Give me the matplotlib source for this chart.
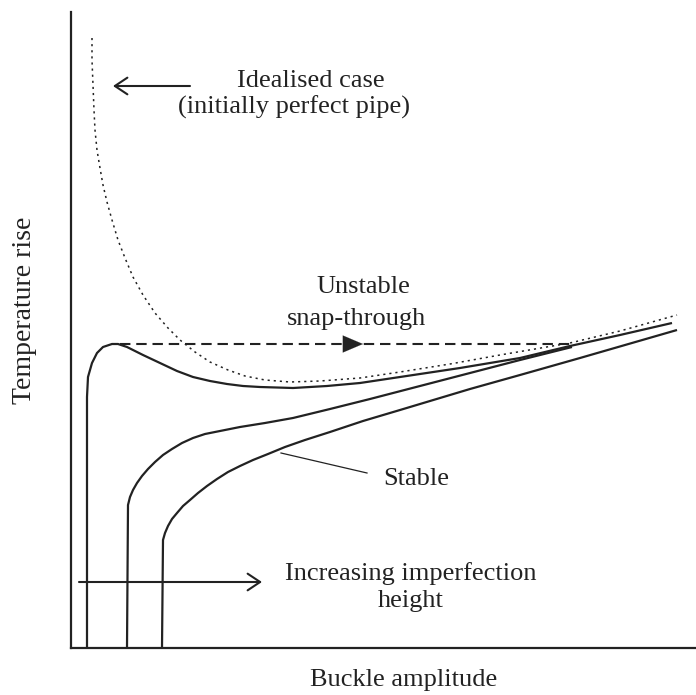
import matplotlib
matplotlib.use("Agg")
import matplotlib.pyplot as plt

plt.rcParams['font.family'] = ['Liberation Serif', 'DejaVu Serif']

INK = '#222222'
FS = 19

# schematic curves: buckle amplitude vs temperature rise (arbitrary units)
ideal_amp = [21, 21, 22, 23, 24, 26, 29, 32, 36, 41, 47, 54, 62, 72, 84, 97, 109, 124, 139, 157,
             174, 194, 219, 249, 289, 329, 379, 429, 499, 549, 606]
ideal_temp = [610, 588, 563, 538, 518, 498, 480, 463, 446, 428, 408, 390, 371, 353, 335, 320, 308,
              296, 286, 278, 272, 268, 266, 267, 270, 276, 284, 293, 305, 317, 333]

c1_amp = [16, 16, 17, 21, 26, 32, 41, 47, 56, 72, 89, 106, 122, 139, 156, 172, 189, 222, 256, 289,
          329, 389, 449, 499, 549, 601]
c1_temp = [0, 251, 271, 285, 295, 301, 304, 304, 301, 293, 285, 277, 271, 267, 264, 262, 261, 260,
           262, 265, 271, 280, 290, 302, 313, 325]

c2_amp = [56, 57, 59, 62, 66, 71, 77, 84, 92, 101, 111, 122, 134, 149, 169, 194, 222, 259, 299, 349,
          399, 449, 501]
c2_temp = [0, 143, 151, 158, 165, 172, 179, 186, 193, 199, 205, 210, 214, 217, 221, 225, 230, 239,
           249, 262, 275, 288, 301]

c3_amp = [91, 92, 94, 97, 101, 106, 112, 119, 127, 136, 146, 157, 169, 182, 197, 214, 234, 259, 292,
          329, 359, 399, 449, 509, 606]
c3_temp = [0, 108, 115, 122, 129, 135, 142, 148, 155, 162, 169, 176, 182, 188, 194, 201, 208, 216,
           227, 238, 247, 259, 273, 290, 318]

snap_amp = [49, 499]
snap_temp = [304, 304]

fig = plt.figure(figsize=(6.96, 6.95), dpi=100)
ax = fig.add_axes([71 / 696, 47 / 695, 625 / 696, 636 / 695])
ax.set_xlim(0, 625)
ax.set_ylim(0, 636)
for s in ['top', 'right']:
    ax.spines[s].set_visible(False)
for s in ['left', 'bottom']:
    ax.spines[s].set_linewidth(1.6)
    ax.spines[s].set_color(INK)
ax.set_xticks([])
ax.set_yticks([])

ax.plot(ideal_amp, ideal_temp, color=INK, lw=1.1, dashes=(1.4, 2.6))
for xs, ys in [(c1_amp, c1_temp), (c2_amp, c2_temp), (c3_amp, c3_temp)]:
    ax.plot(xs, ys, color=INK, lw=1.6, solid_joinstyle='round', solid_capstyle='butt')
ax.plot(snap_amp, snap_temp, color=INK, lw=1.5, dashes=(5, 2.8))

# arrows
ax.annotate('', xy=(292, 304), xytext=(268, 304),
            arrowprops=dict(arrowstyle='-|>,head_length=0.4,head_width=0.17',
                            mutation_scale=36, color=INK, lw=0.1, shrinkA=0, shrinkB=0))
open_arrow = dict(arrowstyle='->,head_length=0.45,head_width=0.3', mutation_scale=20,
                  color=INK, lw=1.5, shrinkA=0, shrinkB=0)
ax.annotate('', xy=(42, 562), xytext=(119, 562), arrowprops=open_arrow)
ax.annotate('', xy=(191, 66), xytext=(8, 66), arrowprops=open_arrow)
ax.plot([210, 296], [195, 175], color=INK, lw=0.9)

# labels
tk = dict(fontsize=FS, color=INK, va='baseline')
ax.text(166, 561, 'Idealised case', ha='left', **tk)
ax.text(107, 534, '(initially perfect pipe)', ha='left', **tk)
ax.text(292, 355, 'Unstable', ha='center', **tk)
ax.text(286, 323, 'snap-through', ha='center', **tk)
ax.text(312, 163, 'Stable', ha='left', **tk)
ax.text(340, 68, 'Increasing imperfection', ha='center', **tk)
ax.text(340, 41, 'height', ha='center', **tk)

fig.text(404 / 696, 1 - 686 / 695, 'Buckle amplitude', ha='center', va='baseline',
         fontsize=FS, color=INK)
fig.text(25 / 696, 1 - 310 / 695, 'Temperature rise', ha='center', va='center',
         rotation=90, fontsize=20, color=INK)

fig.savefig('out.png', dpi=100, facecolor='white')
